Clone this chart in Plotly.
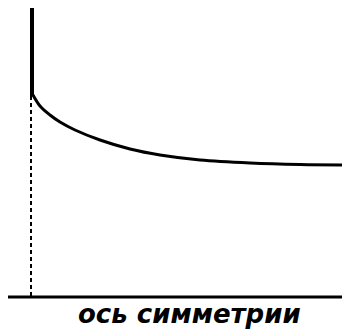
import plotly.graph_objects as go

# curve (x, depth), in image units
curve_x = [33, 40, 50, 60, 75, 100, 130, 160, 200, 250, 300, 350]
curve_y = [95, 106, 115, 122, 130, 140, 149, 155, 160, 163, 164.5, 165]
wall_x = [32, 32]
wall_y = [6, 96]
dash_x = [31, 31]
dash_y = [96, 296]
axis_x = [4, 350]
axis_y = [297, 297]
label = "ось симметрии"

fig = go.Figure()
fig.add_trace(go.Scatter(x=wall_x, y=wall_y, mode="lines",
                         line=dict(color="black", width=4)))
fig.add_trace(go.Scatter(x=curve_x, y=curve_y, mode="lines", line_shape="spline",
                         line=dict(color="black", width=3)))
fig.add_trace(go.Scatter(x=dash_x, y=dash_y, mode="lines",
                         line=dict(color="black", width=2, dash="4px,3px")))
fig.add_trace(go.Scatter(x=axis_x, y=axis_y, mode="lines",
                         line=dict(color="black", width=3)))
fig.add_annotation(x=189, y=314, text="<b><i>" + label + "</i></b>", showarrow=False,
                   font=dict(family="DejaVu Sans", size=26, color="black"),
                   xanchor="center", yanchor="middle")
# page body has an 8px margin, so the figure covers page pixels 8..350 / 8..329
fig.update_layout(width=342, height=321, margin=dict(l=0, r=0, t=0, b=0),
                  paper_bgcolor="white", plot_bgcolor="white", showlegend=False,
                  xaxis=dict(range=[8, 350], visible=False, fixedrange=True),
                  yaxis=dict(range=[329, 8], visible=False, fixedrange=True))
fig.write_html("out.html")
